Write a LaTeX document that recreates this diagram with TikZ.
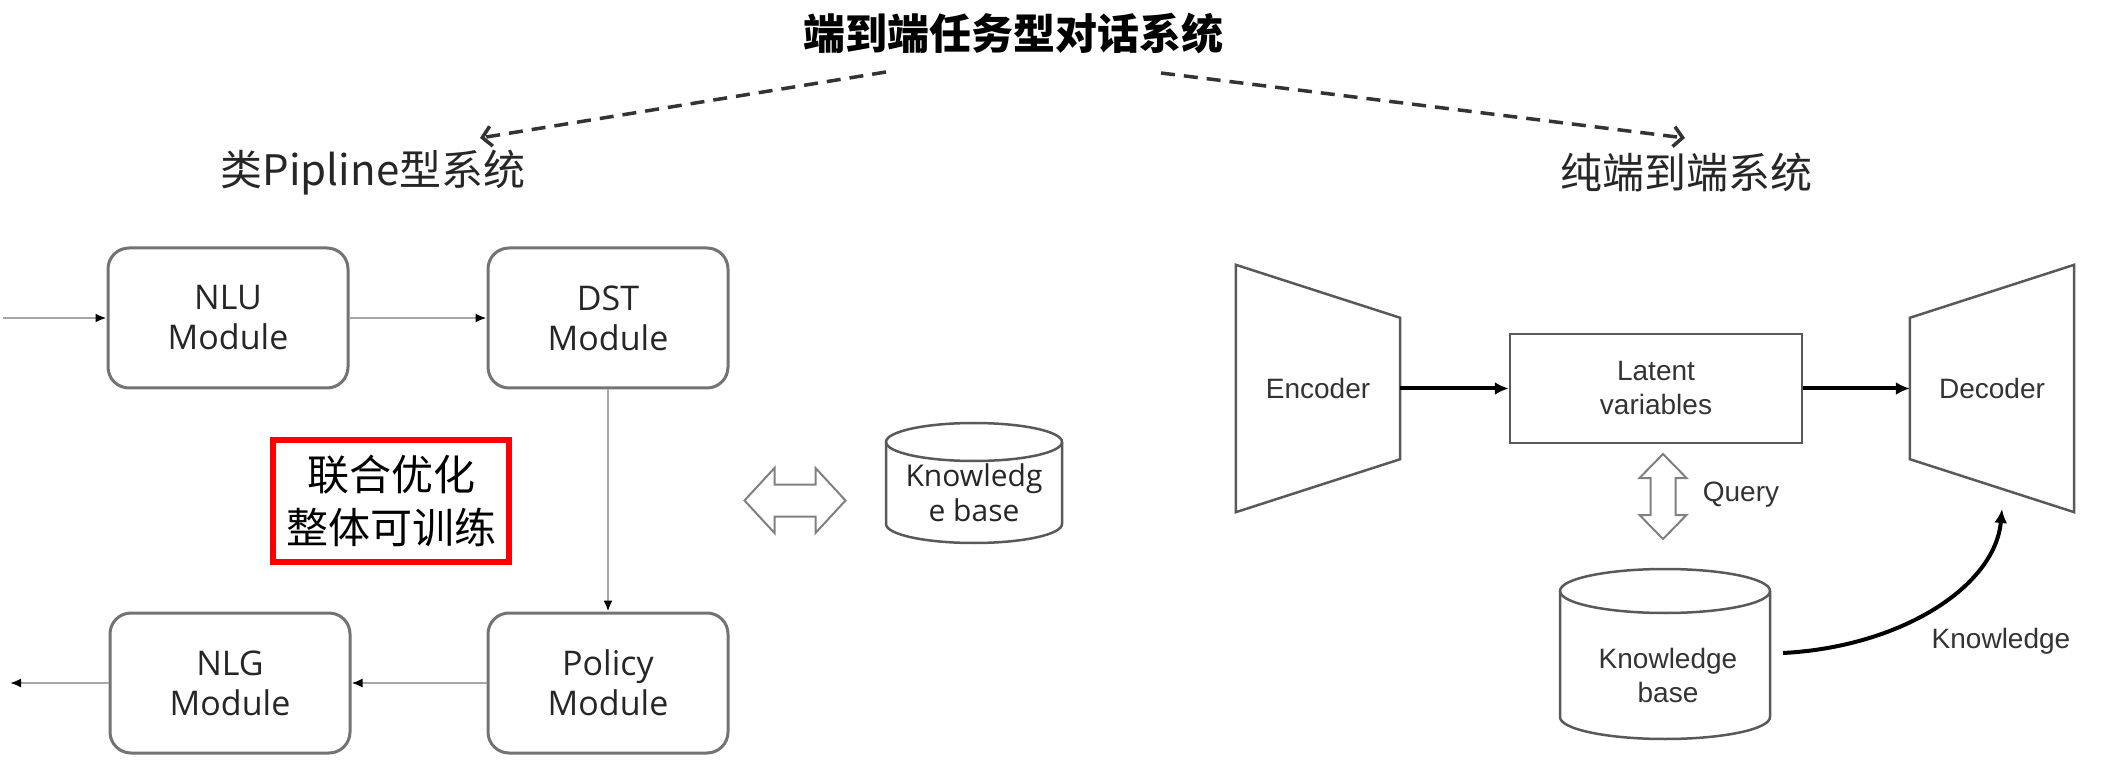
\documentclass[tikz,border=0pt]{standalone}
\usepackage{fontspec}
\setmainfont{Open Sans}
\newfontfamily\cjk{Noto Sans CJK SC}
\newfontfamily\arialfont{Liberation Sans}
\usetikzlibrary{arrows.meta}
\tikzset{
  module/.style={draw=black!55, line width=3pt, rounded corners=21pt, minimum width=240pt, minimum height=140pt, align=center, text=black!85, font=\fontsize{34}{40}\selectfont},
  flow/.style={draw=black!35, line width=2pt, -{Latex[length=11pt,width=9pt,black]}},
  maintitle/.style={font=\cjk\bfseries\fontsize{42}{50}\selectfont},
  subtitle/.style={text=black!85, font=\cjk\fontsize{42}{50}\selectfont},
  dashlink/.style={draw=black!80, line width=3.5pt, dash pattern=on 14pt off 9pt, -{Straight Barb[length=9pt,width=20pt]}},
  hollow/.style={draw=black!50, line width=2pt},
  kbline/.style={draw=black!65, line width=2.5pt},
  shell/.style={minimum width=164pt, minimum height=247pt, inner sep=0pt, text=black!80, font=\arialfont\fontsize{28}{34}\selectfont},
  trap/.style={draw=black!65, line width=2.5pt},
  rtext/.style={text=black!80, align=center, font=\arialfont\fontsize{28}{34}\selectfont},
  boldlink/.style={draw=black, line width=4pt, -{Latex[length=14pt,width=13pt]}}
}
\begin{document}
\begin{tikzpicture}[x=1pt,y=1pt]
\useasboundingbox (0,0) rectangle (2120,772);
\fill[white] (0,0) rectangle (2120,772);
\node(title) at (1013,738) [maintitle] {端到端任务型对话系统};
\node(pipe) at (373,599) [subtitle] {类Pipline型系统};
\node(pure) at (1686,599) [subtitle] {纯端到端系统};
\coordinate(tl) at (886,700);
\coordinate(pl) at (480,634);
\coordinate(tr) at (1161,699);
\coordinate(pr) at (1685,634);
\draw[dashlink] (tl) -- (pl);
\draw[dashlink] (tr) -- (pr);
\node(nlu) at (228,454) [module] {NLU\\Module};
\node(dst) at (608,454) [module] {DST\\Module};
\node(policy) at (608,89) [module] {Policy\\Module};
\node(nlg) at (230,89) [module] {NLG\\Module};
\coordinate(in) at (3,454);
\coordinate(out) at (10,89);
\draw[flow] (in) -- (nlu);
\draw[flow] (nlu) -- (dst);
\draw[flow] (dst) -- (policy);
\draw[flow] (policy) -- (nlg);
\draw[flow] (nlg) -- (out);
\node(joint) at (391,271) [draw=red, line width=6pt, minimum width=236pt, minimum height=122pt, align=center, font=\cjk\fontsize{42}{53}\selectfont] {联合优化\\整体可训练};
\draw[hollow, shift={(795,271.5)}] (-50.5,0) -- (-20.5,32.5) -- (-20.5,16) -- (20.5,16) -- (20.5,32.5) -- (50.5,0) -- (20.5,-32.5) -- (20.5,-16) -- (-20.5,-16) -- (-20.5,-32.5) -- cycle;
\draw[kbline] (886,330) -- (886,248) arc[start angle=180, end angle=360, x radius=88, y radius=19] -- (1062,330);
\draw[kbline] (974,330) ellipse [x radius=88, y radius=19];
\node(kbl) at (974,279) [align=center, text=black!85, font=\fontsize{30}{35}\selectfont] {Knowledg\\e base};
\node(enc) at (1318,383.5) [shell] {Encoder};
\node(dec) at (1992,383.5) [shell] {Decoder};
\draw[trap] (enc.north west) -- ([yshift=-53pt]enc.north east) -- ([yshift=53pt]enc.south east) -- (enc.south west) -- cycle;
\draw[trap] (dec.north east) -- ([yshift=-53pt]dec.north west) -- ([yshift=53pt]dec.south west) -- (dec.south east) -- cycle;
\node(latent) at (1656,383.5) [draw=black!65, line width=2.5pt, minimum width=292pt, minimum height=109pt, rtext] {Latent\\variables};
\draw[boldlink] (enc.east) -- (latent.west);
\draw[boldlink] (latent.east) -- (dec.west);
\draw[hollow, shift={(1663,275.5)}] (0,42.5) -- (23.5,18.5) -- (12.5,18.5) -- (12.5,-18.5) -- (23.5,-18.5) -- (0,-42.5) -- (-23.5,-18.5) -- (-12.5,-18.5) -- (-12.5,18.5) -- (-23.5,18.5) -- cycle;
\node(query) at (1741,277) [rtext] {Query};
\draw[kbline] (1560,181) -- (1560,55) arc[start angle=180, end angle=360, x radius=105, y radius=22] -- (1770,181);
\draw[kbline] (1665,181) ellipse [x radius=105, y radius=22];
\node(kbr) at (1668,97) [rtext] {Knowledge\\base};
\coordinate(kbout) at (1783,119);
\coordinate(decin) at (2002,263);
\draw[boldlink] (kbout) .. controls (1900,125) and (1995,185) .. (decin);
\node(know) at (2001,131) [rtext] {Knowledge};
\end{tikzpicture}
\end{document}
